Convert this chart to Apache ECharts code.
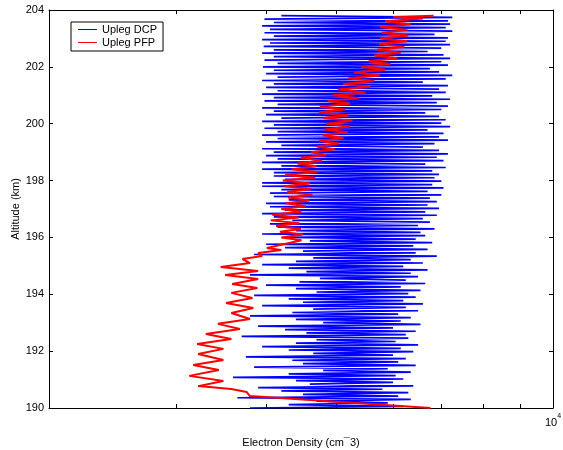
<!DOCTYPE html>
<html>
<head>
<meta charset="utf-8">
<script src="https://cdn.jsdelivr.net/npm/echarts@6/dist/echarts.min.js"></script>
<style>html,body{margin:0;padding:0;background:#fff}#c{width:563px;height:450px}</style>
</head>
<body>
<div id="c"></div>
<script>
// Upleg DCP: electron density samples (cm^-3) on a 0.06 km altitude grid starting at 190 km
const dcpStartAlt = 190.0;
const dcpStepAlt = 0.06;
const dcpNe = [
  3800, 6200, 4300, 5900, 4700, 6350,
  3650, 6100, 4500, 6300, 4200, 5800,
  3900, 6400, 4600, 6000, 4400, 6200,
  3600, 6050, 4300, 6350, 4800, 5900,
  3850, 6450, 4500, 6100, 4350, 6250,
  3750, 6000, 4650, 6400, 4300, 6150,
  3950, 6500, 4400, 6050, 4700, 6300,
  3700, 6250, 4550, 6450, 4250, 6000,
  3900, 6550, 4800, 6150, 4400, 6350,
  3800, 6100, 4350, 6500, 4650, 6250,
  3950, 6600, 4500, 6200, 4300, 6450,
  3850, 6300, 4700, 6550, 4400, 6150,
  4000, 6650, 4450, 6250, 4750, 6500,
  3800, 6350, 4550, 6700, 4300, 6200,
  3950, 6600, 4400, 6350, 4650, 6900,
  3850, 6450, 4500, 6700, 4250, 6400,
  4000, 6800, 4600, 6450, 4300, 6650,
  3950, 6550, 4400, 6850, 4150, 6500,
  4050, 6750, 4350, 6600, 4100, 6900,
  3950, 6650, 4250, 6950, 4050, 6700,
  4000, 6900, 4300, 6750, 4100, 7000,
  4050, 6700, 4200, 7050, 3950, 6800,
  3950, 7000, 4250, 6850, 4100, 6950,
  4100, 6800, 3950, 7100, 4200, 6650,
  3950, 7050, 4150, 6900, 4000, 7150,
  4100, 6950, 3950, 6600, 4200, 6850,
  4000, 7150, 4150, 6950, 3950, 7050,
  4150, 6700, 3980, 7200, 4100, 7000,
  3950, 7100, 4200, 6950, 4000, 6650,
  4100, 7000, 3950, 7150, 4150, 6900,
  3980, 7200, 4100, 6800, 3950, 7100,
  4150, 6950, 4000, 7150, 4100, 6600,
  3950, 7100, 4150, 7250, 4000, 6950,
  4100, 6750, 3960, 7150, 4150, 7000,
  3980, 7200, 4100, 7050, 3950, 6700,
  4100, 7000, 3970, 7200, 4050, 7100,
  3950, 7150, 4100, 6850, 3980, 7250,
  4050, 7100, 3950, 7200, 4100, 7150,
  3980, 7250, 4200
];

// Upleg PFP: altitude (km) and electron density (cm^-3)
const pfpAlt = [
  190.00, 190.42, 190.56, 190.67, 190.77, 190.95, 191.13, 191.34, 191.51, 191.69,
  191.90, 192.08, 192.25, 192.43, 192.60, 192.78, 192.96, 193.13, 193.34, 193.52,
  193.69, 193.87, 194.05, 194.22, 194.36, 194.54, 194.68, 194.82, 194.96, 195.10,
  195.24, 195.35, 195.45, 195.56, 195.63,
  195.90, 196.00, 196.10, 196.20, 196.30, 196.40, 196.50, 196.60, 196.70, 196.80,
  196.90, 197.00, 197.10, 197.20, 197.30, 197.40, 197.50, 197.60, 197.70, 197.80,
  197.90, 198.00, 198.10, 198.20, 198.30, 198.40, 198.50, 198.60, 198.70, 198.80,
  198.90, 199.00, 199.10, 199.20, 199.30, 199.40, 199.50, 199.60, 199.70, 199.80,
  199.90, 200.00, 200.10, 200.20, 200.30, 200.40, 200.50, 200.60, 200.70, 200.80,
  200.90, 201.00, 201.10, 201.20, 201.30, 201.40, 201.50, 201.60, 201.70, 201.80,
  201.90, 202.00, 202.10, 202.20, 202.30, 202.40, 202.50, 202.60, 202.70, 202.80,
  202.90, 203.00, 203.10, 203.20, 203.30, 203.40, 203.50, 203.60, 203.70, 203.75,
  203.80
];
const pfpNe = [
  6760, 3800, 3760, 3580, 3220, 3490, 3130, 3440, 3170, 3490,
  3220, 3490, 3210, 3580, 3300, 3680, 3430, 3800, 3580, 3840,
  3520, 3830, 3580, 3890, 3590, 3900, 3510, 3900, 3460, 3800,
  3710, 3950, 3900, 4200, 4010,
  4480, 4200, 4500, 4180, 4470, 4130, 4450, 4060, 4440, 4080,
  4480, 4200, 4540, 4260, 4600, 4290, 4640, 4280, 4620, 4240,
  4600, 4220, 4680, 4250, 4710, 4340, 4700, 4420, 4780, 4470,
  4850, 4620, 4980, 4700, 5050, 4740, 5120, 4790, 5190, 4820,
  5230, 4850, 5270, 4800, 5200, 4740, 5150, 4750, 5230, 4870,
  5380, 4950, 5500, 5030, 5580, 5120, 5650, 5200, 5760, 5300,
  5850, 5420, 5950, 5550, 6080, 5650, 6150, 5700, 6220, 5740,
  6280, 5760, 6300, 5780, 6280, 5760, 6350, 5850, 6600, 6000,
  6830
];

const xTickValues = [2000, 3000, 4000, 5000, 6000, 7000, 8000, 9000, 10000];
const xLabelValues = [10000];
const seriesNames = ['Upleg DCP', 'Upleg PFP'];
const seriesColors = ['#0000ff', '#ff0000'];

const dcpData = dcpNe.map((v, i) => [v, +(dcpStartAlt + i * dcpStepAlt).toFixed(2)]);
const pfpData = pfpNe.map((v, i) => [v, pfpAlt[i]]);

const FONT = '"Liberation Sans", Arial, Helvetica, sans-serif';
const chart = echarts.init(document.getElementById('c'), null, {renderer: 'canvas'});

const baseX = {
  type: 'log', logBase: 10, min: 2000, max: 10000,
  axisLine: {show: true, onZero: false, lineStyle: {color: '#000', width: 1}},
  axisTick: {show: true, inside: true, length: 4, customValues: xTickValues, lineStyle: {color: '#000'}},
  splitLine: {show: false},
  minorTick: {show: false}
};
const baseY = {
  type: 'value', min: 190, max: 204, interval: 2,
  axisLine: {show: true, onZero: false, lineStyle: {color: '#000', width: 1}},
  axisTick: {show: true, inside: true, length: 4, lineStyle: {color: '#000'}},
  splitLine: {show: false}
};

chart.setOption({
  animation: false,
  backgroundColor: '#fff',
  grid: {left: 49, right: 10, top: 10, bottom: 42, containLabel: false, outerBoundsMode: 'none'},
  legend: {
    data: seriesNames.map((n, i) => ({
      name: n,
      icon: 'rect',
      itemStyle: {color: seriesColors[i], borderColor: seriesColors[i], borderWidth: 0, opacity: 1},
      lineStyle: {color: seriesColors[i], width: 0, opacity: 0}
    })),
    orient: 'vertical',
    left: 71, top: 22,
    itemWidth: 19, itemHeight: 1,
    itemGap: 0,
    padding: [1, 6, 2, 7],
    borderColor: '#000', borderWidth: 1,
    backgroundColor: '#fff',
    textStyle: {fontFamily: FONT, fontSize: 11, color: '#000', lineHeight: 13}
  },
  xAxis: [
    Object.assign({}, baseX, {
      position: 'bottom',
      name: 'Electron Density (cm\u00AF3)',
      nameLocation: 'middle', nameGap: 29, nameMoveOverlap: false,
      nameTextStyle: {fontFamily: FONT, fontSize: 11, color: '#000'},
      axisLabel: {
        show: true, customValues: xLabelValues, margin: 5,
        formatter: () => '{b|10}{s|4}',
        rich: {
          b: {fontFamily: FONT, fontSize: 11, color: '#000', lineHeight: 15, verticalAlign: 'bottom'},
          s: {fontFamily: FONT, fontSize: 7, color: '#000', lineHeight: 15, verticalAlign: 'top'}
        }
      }
    }),
    Object.assign({}, baseX, {position: 'top', axisLabel: {show: false}})
  ],
  yAxis: [
    Object.assign({}, baseY, {
      position: 'left',
      name: 'Altitude (km)',
      nameLocation: 'middle', nameGap: 28, nameMoveOverlap: false,
      nameTextStyle: {fontFamily: FONT, fontSize: 11, color: '#000'},
      axisLabel: {show: true, margin: 5, fontFamily: FONT, fontSize: 11, color: '#000'}
    }),
    Object.assign({}, baseY, {position: 'right', axisLabel: {show: false}})
  ],
  series: [
    {
      name: seriesNames[0], type: 'line', data: dcpData,
      xAxisIndex: 0, yAxisIndex: 0,
      showSymbol: false, symbol: 'none', smooth: false,
      itemStyle: {color: seriesColors[0]},
      lineStyle: {color: seriesColors[0], width: 1.7},
      emphasis: {disabled: true}, z: 2
    },
    {
      name: seriesNames[1], type: 'line', data: pfpData,
      xAxisIndex: 0, yAxisIndex: 0,
      showSymbol: false, symbol: 'none', smooth: false,
      itemStyle: {color: seriesColors[1]},
      lineStyle: {color: seriesColors[1], width: 2},
      emphasis: {disabled: true}, z: 3
    }
  ]
});
</script>
</body>
</html>
